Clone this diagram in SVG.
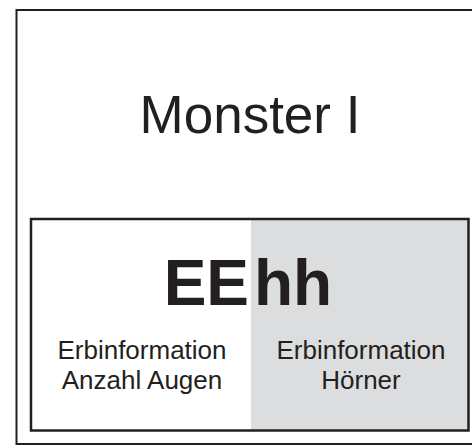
<svg xmlns="http://www.w3.org/2000/svg" width="472" height="446" viewBox="0 0 472 446">
<style>
.frame{fill:none;stroke:#231f20}
.t{font-family:"Liberation Sans",Arial,sans-serif;fill:#231f20}
.lbl{font-size:26px;text-anchor:middle}
.gene{font-size:64px;font-weight:bold}
</style>
<rect width="472" height="446" fill="#ffffff"/>
<g id="monster">
<rect class="frame" x="16.5" y="10" width="460" height="434" stroke-width="2"/>
<text class="t" x="250" y="132.5" font-size="53" text-anchor="middle">Monster I</text>
</g>
<g id="genome">
<rect x="251" y="219" width="217.5" height="211.5" fill="#dcdddf"/>
<rect class="frame" x="31" y="219" width="437.5" height="211.5" stroke-width="2.5"/>
</g>
<g id="eyes">
<text class="t gene" x="249" y="305" text-anchor="end">EE</text>
<text class="t lbl" x="142" y="359">Erbinformation</text>
<text class="t lbl" x="142" y="388.5">Anzahl Augen</text>
</g>
<g id="horns">
<text class="t gene" x="254" y="305">hh</text>
<text class="t lbl" x="361" y="359">Erbinformation</text>
<text class="t lbl" x="361" y="388.5">Hörner</text>
</g>
<g id="connectors"></g>
</svg>
